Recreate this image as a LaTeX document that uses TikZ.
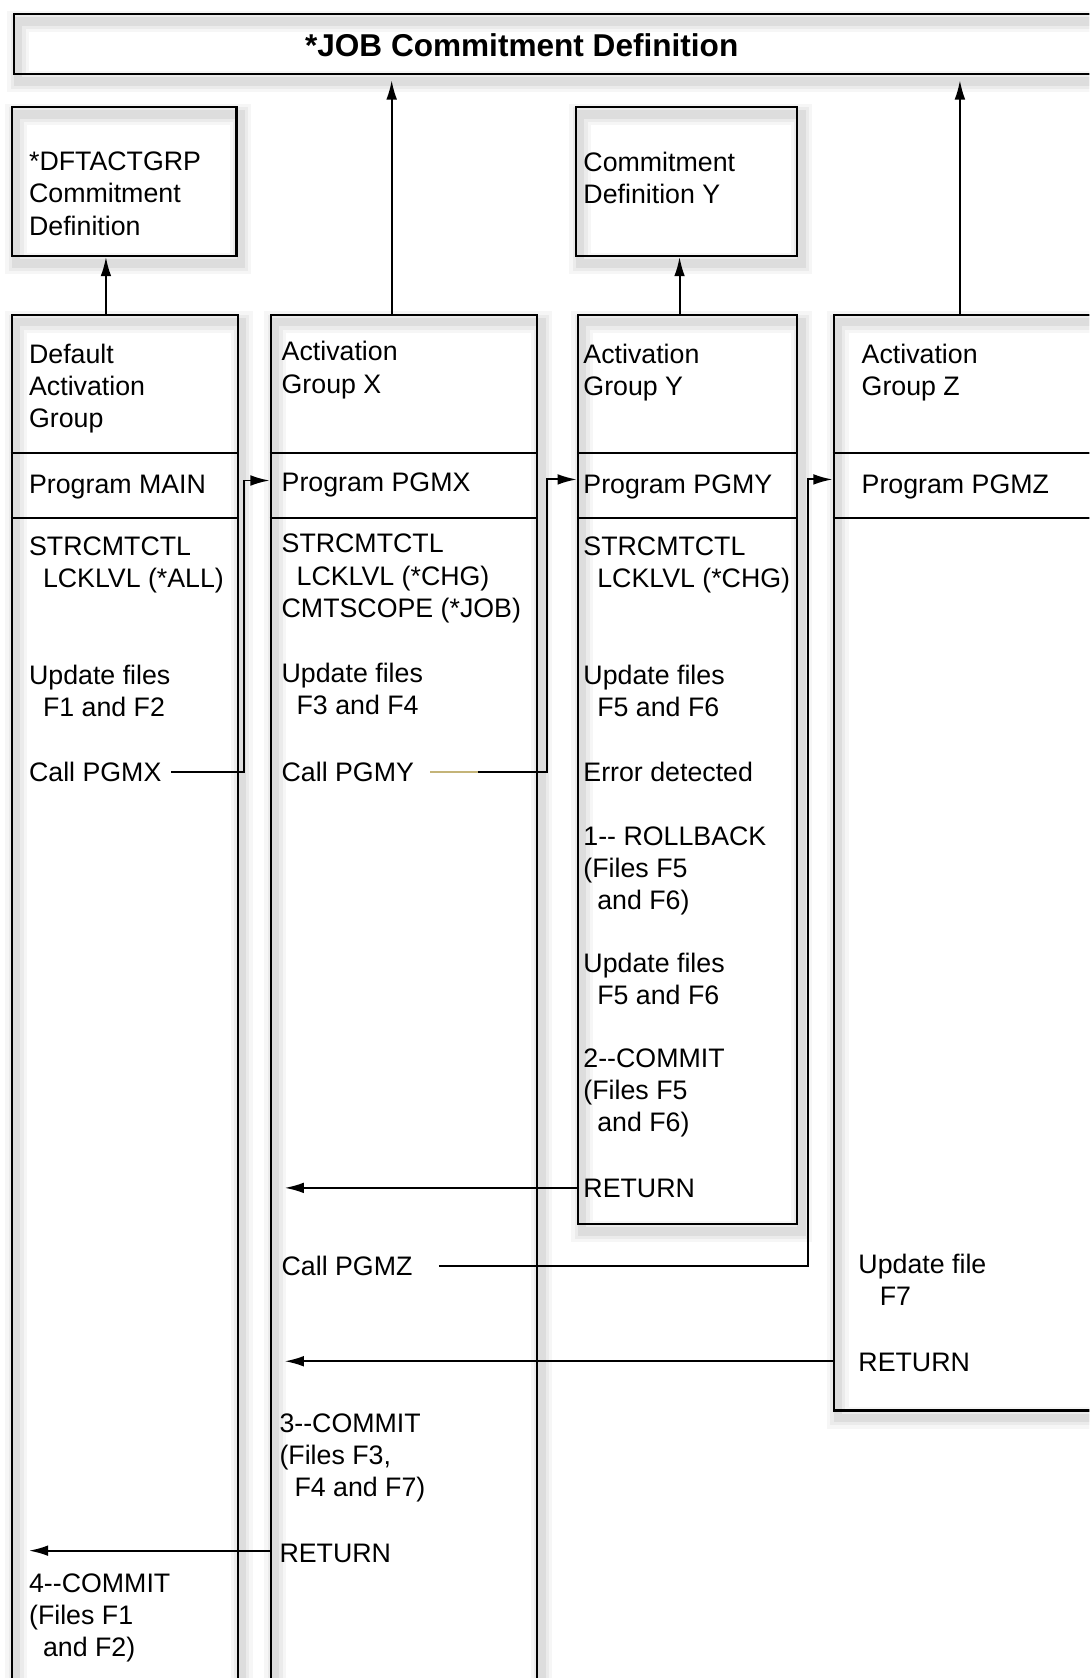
\documentclass[tikz,border=0pt]{standalone}
\usepackage{fontspec}
\setmainfont{Liberation Sans}
\usetikzlibrary{arrows.meta}
\newcommand\dbldash{-\kern0pt-}
\newcommand\boxshade[4]{%
  \foreach \w/\o in {20/0.035,14/0.045,8/0.06}
    \draw[line width=\w pt, black, opacity=\o] (#1+5,#2+8) rectangle (#3+5,#4+8);}
\begin{document}
\begin{tikzpicture}[x=1pt,y=-1pt,
  box/.style={draw, line width=2.1pt, inner sep=0pt, anchor=north west},
  txt/.style={anchor=north west, align=left, inner sep=0pt, font=\fontsize{25}{30}\selectfont,
    execute at begin node={\rule{0pt}{20pt}}},
  conn/.style={line width=1.8pt},
  arr/.style={line width=1.8pt, -{Latex[length=18pt,width=10pt]}},
  divider/.style={line width=2.1pt}
]
\useasboundingbox (0,0) rectangle (1018,1568);
\clip (0,0) rectangle (1018,1568);

% shadows
\boxshade{12}{12}{1052}{68}
\boxshade{10}{99}{220}{238}
\boxshade{537}{99}{744}{238}
\boxshade{10}{293}{221}{1613}
\boxshade{252}{293}{501}{1613}
\boxshade{539}{293}{744}{1143}
\boxshade{778}{293}{1048}{1317}

% boxes
\node[box, minimum width=1040pt, minimum height=56pt] (job) at (12,12) {};
\node[font=\bfseries\fontsize{29.5}{32}\selectfont, anchor=base] (jobT) at (487.5,53) {*JOB Commitment Definition};
\node[box, minimum width=210pt, minimum height=139pt] (dft) at (10,99) {};
\node[box, minimum width=207pt, minimum height=139pt] (cdy) at (537,99) {};
\node[box, minimum width=211pt, minimum height=1320pt] (agD) at (10,293) {};
\node[box, minimum width=249pt, minimum height=1320pt] (agX) at (252,293) {};
\node[box, minimum width=205pt, minimum height=850pt] (agY) at (539,293) {};
\node[box, minimum width=270pt, minimum height=1024pt] (agZ) at (778,293) {};

% dividers
\foreach \b in {agD,agX,agY,agZ}{
  \draw[divider] (\b.west |- 0,423) -- (\b.east |- 0,423);
  \draw[divider] (\b.west |- 0,484) -- (\b.east |- 0,484);
}

% upward arrows
\coordinate (jobX) at (366,75);
\coordinate (jobZ) at (897,75);
\draw[arr] (99,0 |- agD.north) -- (99,0 |- dft.south);
\draw[arr] (366,0 |- agX.north) -- (jobX);
\draw[arr] (635,0 |- agY.north) -- (635,0 |- cdy.south);
\draw[arr] (897,0 |- agZ.north) -- (jobZ);

% texts (y = first baseline - 20)
\node[txt] (dftT) at (27,142) {*DFTACTGRP\\Commitment\\Definition};
\node[txt] (cdyT) at (545,142) {Commitment\\Definition Y};

\node[txt] (dH) at (27,321) {Default\\Activation\\Group};
\node[txt] (dP) at (27,441) {Program MAIN};
\node[txt] (dS) at (27,501) {STRCMTCTL\\\hspace*{13pt}LCKLVL (*ALL)};
\node[txt] (dU) at (27,621) {Update files\\\hspace*{13pt}F1 and F2};
\node[txt] (callx) at (27,710) {Call PGMX};
\node[txt] (d4) at (27,1470) {4\dbldash COMMIT\\(Files F1\\\hspace*{13pt}and F2)};

\node[txt] (xH) at (263,319) {Activation\\Group X};
\node[txt] (xP) at (263,439) {Program PGMX};
\node[txt] (xS) at (263,499) {STRCMTCTL\\\hspace*{14pt}LCKLVL (*CHG)\\CMTSCOPE (*JOB)};
\node[txt] (xU) at (263,619) {Update files\\\hspace*{14pt}F3 and F4};
\node[txt] (cally) at (263,710) {Call PGMY};
\node[txt] (callz) at (263,1172) {Call PGMZ};
\node[txt] (x3) at (261,1321) {3\dbldash COMMIT\\(Files F3,\\\hspace*{14pt}F4 and F7)};
\node[txt] (xR) at (261,1440) {RETURN};

\node[txt] (yH) at (545,321) {Activation\\Group Y};
\node[txt] (yP) at (545,441) {Program PGMY};
\node[txt] (yS) at (545,501) {STRCMTCTL\\\hspace*{13pt}LCKLVL (*CHG)};
\node[txt] (yU) at (545,621) {Update files\\\hspace*{13pt}F5 and F6};
\node[txt] (yE) at (545,710) {Error detected};
\node[txt] (y1) at (545,772) {1\dbldash{} ROLLBACK\\(Files F5\\\hspace*{13pt}and F6)};
\node[txt] (yU2) at (545,890) {Update files\\\hspace*{13pt}F5 and F6};
\node[txt] (y2) at (545,980) {2\dbldash COMMIT\\(Files F5\\\hspace*{13pt}and F6)};
\node[txt] (yR) at (545,1099) {RETURN};

\node[txt] (zH) at (805,321) {Activation\\Group Z};
\node[txt] (zP) at (805,441) {Program PGMZ};
\node[txt] (zU) at (802,1172) {Update file\\\hspace*{20pt}F7};
\node[txt] (zR) at (802,1261) {RETURN};

% call connectors
\coordinate (cxS) at (160,721);
\coordinate (cxB) at (228,721);
\draw[arr] (cxS) -- (cxB) |- (agX.west |- 0,449);
\coordinate (cyS) at (402,721);
\coordinate (cyB) at (511,721);
\draw[arr] (cyS) -- (cyB) |- (agY.west |- 0,448);
\draw[line width=1.8pt, color={rgb,255:red,196;green,180;blue,120}] (cyS) -- (447,721);
\coordinate (czS) at (410,1183);
\coordinate (czB) at (755,1183);
\draw[arr] (czS) -- (czB) |- (agZ.west |- 0,448);

% return connectors
\coordinate (ryT) at (266,1110);
\coordinate (rzT) at (266,1272);
\coordinate (rxT) at (27,1449);
\draw[arr] (agY.west |- 0,1110) -- (ryT);
\draw[arr] (agZ.west |- 0,1272) -- (rzT);
\draw[arr] (agX.west |- 0,1449) -- (rxT);
\end{tikzpicture}
\end{document}
